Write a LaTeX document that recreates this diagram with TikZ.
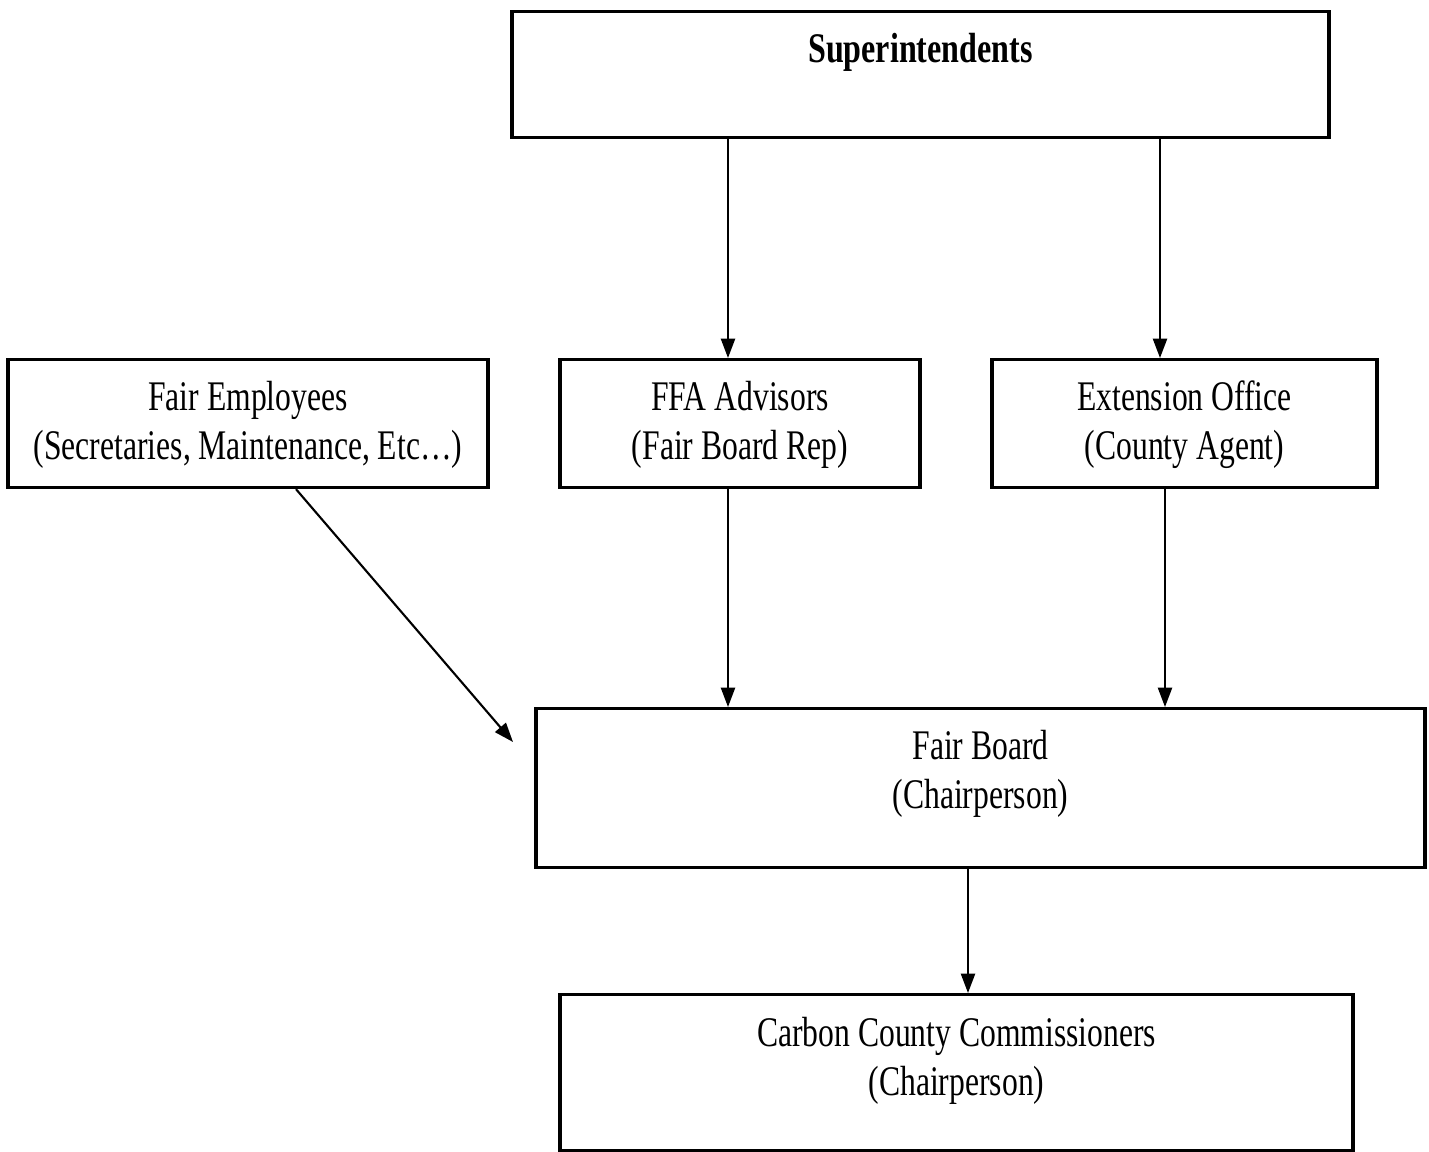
\documentclass[tikz,border=0pt]{standalone}
\usepackage{fontspec}
\setmainfont[FakeStretch=0.75,BoldFeatures={FakeStretch=0.76}]{Liberation Serif}
\usetikzlibrary{arrows.meta}
\tikzset{
unit/.style={draw,line width=0.9pt,inner sep=0pt,align=center,anchor=north,
  font=\fontsize{12}{13.94}\selectfont},
flow/.style={-{Triangle[length=5.5pt,width=4pt]},line width=0.6pt}
}
\begin{document}
\begin{tikzpicture}
\useasboundingbox (0,0) rectangle (14.29,-11.52);
\node[unit,minimum width=8.17cm,text height=0.51cm,text depth=0.75cm]
(super) at (9.205,-0.10) {\textbf{Superintendents}};
\node[unit,minimum width=4.80cm,text height=1.00cm,text depth=0.28cm]
(emp) at (2.48,-3.58) {Fair Employees\\(Secretaries, Maintenance, Etc\ldots)};
\node[unit,minimum width=3.60cm,text height=1.00cm,text depth=0.28cm]
(ffa) at (7.40,-3.58) {FFA Advisors\\(Fair Board Rep)};
\node[unit,minimum width=3.85cm,text height=1.00cm,text depth=0.28cm]
(ext) at (11.845,-3.58) {Extension Office\\(County Agent)};
\node[unit,minimum width=8.89cm,text height=1.00cm,text depth=0.59cm]
(board) at (9.805,-7.07) {Fair Board\\(Chairperson)};
\node[unit,minimum width=7.93cm,text height=1.01cm,text depth=0.55cm]
(comm) at (9.565,-9.93) {Carbon County Commissioners\\(Chairperson)};
\coordinate (aim) at (5.13,-7.42);
\draw[flow]([xshift=-0.12cm]ffa.north |- super.south) -- ([xshift=-0.12cm]ffa.north);
\draw[flow]([xshift=-0.245cm]ext.north |- super.south) -- ([xshift=-0.245cm]ext.north);
\draw[flow]([xshift=-0.12cm]ffa.south) -- ([xshift=-0.12cm]ffa.south |- board.north);
\draw[flow]([xshift=-0.195cm]ext.south) -- ([xshift=-0.195cm]ext.south |- board.north);
\draw[flow]([xshift=0.48cm]emp.south) -- (aim);
\draw[flow]([xshift=0.115cm]comm.north |- board.south) -- ([xshift=0.115cm]comm.north);
\end{tikzpicture}
\end{document}
